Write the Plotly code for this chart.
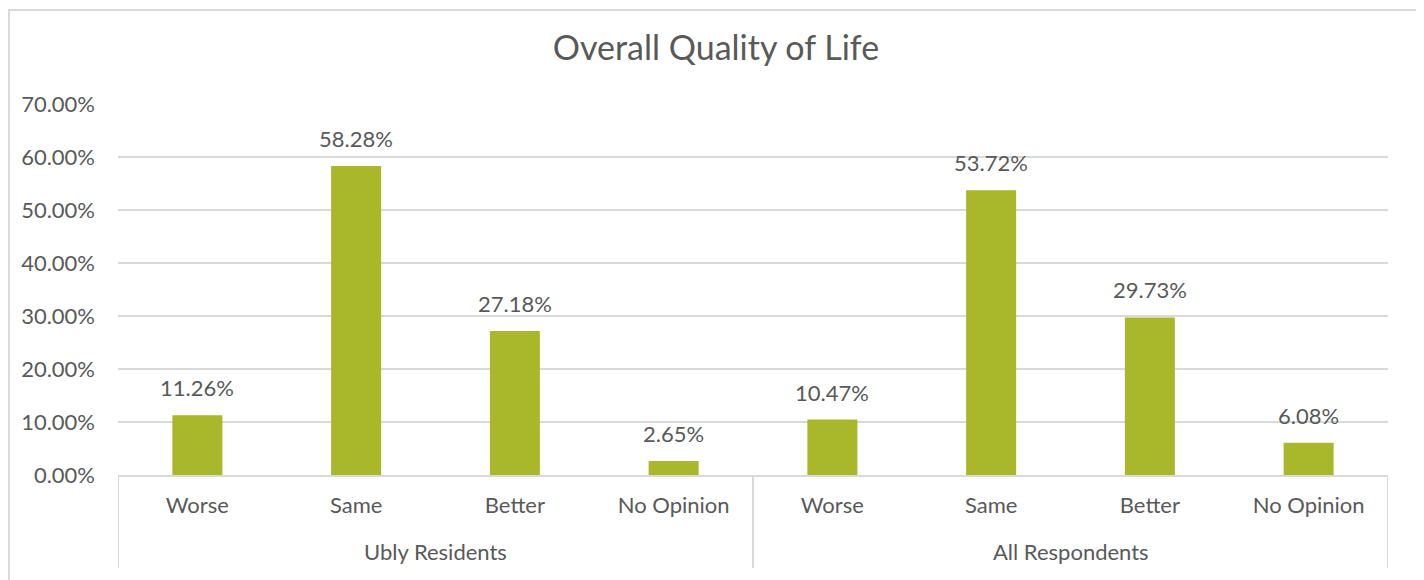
import plotly.graph_objects as go

group_names = ["Ubly Residents", "All Respondents"]
categories = ["Worse", "Same", "Better", "No Opinion"]
ubly_values = [11.26, 58.28, 27.18, 2.65]
all_values = [10.47, 53.72, 29.73, 6.08]
tick_vals = [0, 10, 20, 30, 40, 50, 60, 70]
tick_text = [f"{v:.2f}%" for v in tick_vals]

TEXT = "#595959"
GRID = "#D9D9D9"
FONT = "Lato"
BAR = "#A8B82A"

values = ubly_values + all_values
labels = categories * 2
xpos = list(range(len(values)))
n_cat = len(categories)

fig = go.Figure(go.Bar(
    x=xpos,
    y=values,
    marker=dict(color=BAR, line=dict(width=0)),
    hovertext=labels,
))

annotations = []
for x, v in zip(xpos, values):
    annotations.append(dict(x=x, y=v, xref="x", yref="y", text=f"{v:.2f}%", showarrow=False,
                            yanchor="bottom", yshift=12,
                            font=dict(family=FONT, size=22, color=TEXT)))
for gi, g in enumerate(group_names):
    annotations.append(dict(x=gi * n_cat + (n_cat - 1) / 2, y=0, xref="x", yref="paper", text=g,
                            showarrow=False, yanchor="middle", yshift=-76,
                            font=dict(family=FONT, size=22, color=TEXT)))

shapes = []
for gi in range(len(group_names) + 1):
    shapes.append(dict(type="line", xref="x", yref="paper", x0=gi * n_cat - 0.5, x1=gi * n_cat - 0.5,
                       y0=0, y1=-0.2507, line=dict(color=GRID, width=2)))
# outer chart border (left, top, right)
shapes.append(dict(type="path", xref="paper", yref="paper",
                   path="M -0.0858 -0.31 L -0.0858 1.2534 L 1.0228 1.2534 L 1.0228 -0.31",
                   line=dict(color=GRID, width=2)))

fig.update_layout(
    width=1416, height=572,
    margin=dict(l=110, r=36, t=96, b=105),
    paper_bgcolor="white", plot_bgcolor="white",
    bargap=0.685,
    showlegend=False,
    title=dict(text="Overall Quality of Life", x=0.5, xanchor="center", y=1 - 40 / 572, yanchor="middle",
               font=dict(family=FONT, size=34, color=TEXT)),
    font=dict(family=FONT, size=22, color=TEXT),
    xaxis=dict(range=[-0.5, len(values) - 0.5], tickvals=xpos, ticktext=labels,
               showgrid=False, zeroline=False, showline=True, linecolor=GRID, linewidth=2,
               ticks="", ticklabelstandoff=10,
               tickfont=dict(family=FONT, size=22, color=TEXT)),
    yaxis=dict(range=[0, 70], tickvals=tick_vals, ticktext=tick_text,
               showgrid=True, gridcolor=GRID, gridwidth=1.5,
               zeroline=False, showline=False, ticks="", ticklabelstandoff=22,
               tickfont=dict(family=FONT, size=22, color=TEXT)),
    annotations=annotations,
    shapes=shapes,
)

fig.write_html("out.html")
